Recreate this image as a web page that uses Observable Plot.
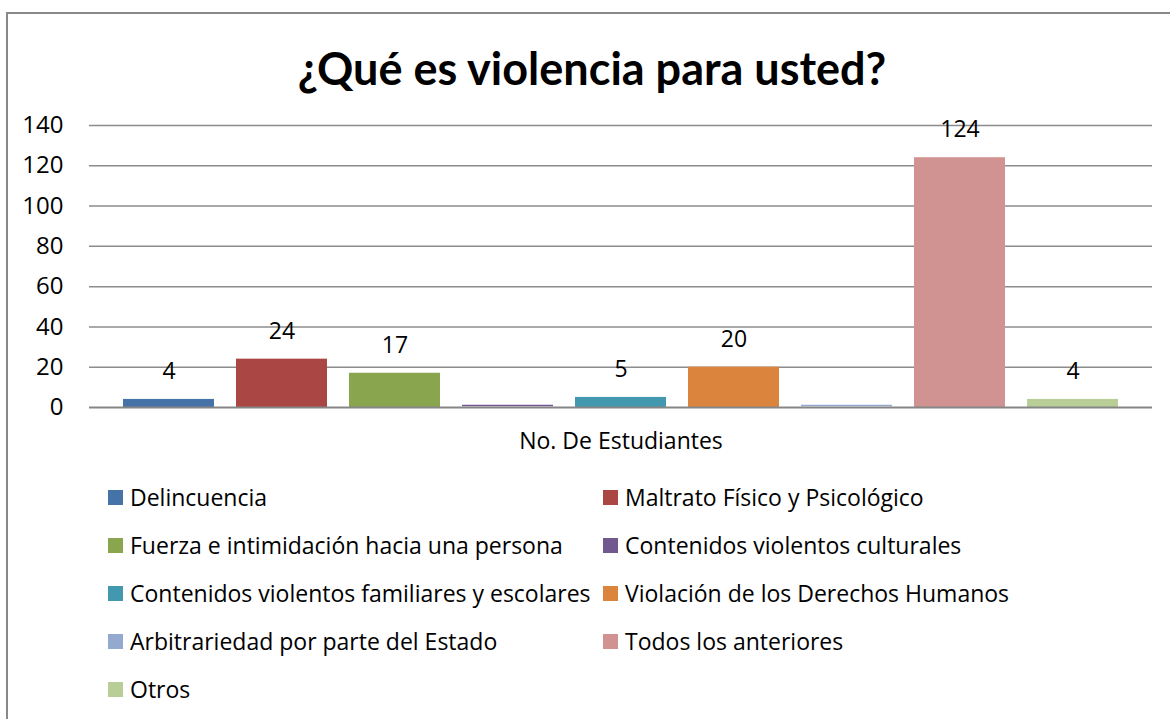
<!DOCTYPE html>
<html>
<head>
<meta charset="utf-8">
<script src="https://cdn.jsdelivr.net/npm/d3@7"></script>
<script src="https://cdn.jsdelivr.net/npm/@observablehq/plot@0.6"></script>
<style>
  html, body { margin: 0; padding: 0; background: #fff; overflow: hidden; }
  body { width: 1170px; height: 719px; position: relative; font-family: "Open Sans", sans-serif; color: #000; }
  #frame { position: absolute; left: 6px; top: 12px; width: 1300px; height: 900px;
           border-left: 2px solid #898989; border-top: 2px solid #898989; box-sizing: border-box; }
  #title { position: absolute; left: 0; top: 41px; width: 1184px; text-align: center;
           font-family: Lato, "Open Sans", sans-serif;
           font-size: 45px; font-weight: bold; line-height: 54px; }
  #chart { position: absolute; left: 0; top: 100px; }
  #legend { position: absolute; left: 108px; top: 473px; display: grid;
            grid-template-columns: 495px 495px; grid-auto-rows: 48px; }
  .item { display: flex; align-items: center; font-size: 23px; white-space: nowrap; }
  .sw { width: 15px; height: 15px; margin-right: 7px; flex: none; }
</style>
</head>
<body>
<div id="frame"></div>
<div id="title"></div>
<div id="chart"></div>
<div id="legend"></div>
<script>
const titleText = "¿Qué es violencia para usted?";
const axisLabel = "No. De Estudiantes";
const categories = [
  "Delincuencia",
  "Maltrato Físico y Psicológico",
  "Fuerza e intimidación hacia una persona",
  "Contenidos violentos culturales",
  "Contenidos violentos familiares y escolares",
  "Violación de los Derechos Humanos",
  "Arbitrariedad por parte del Estado",
  "Todos los anteriores",
  "Otros"
];
const values = [4, 24, 17, 0, 5, 20, 0, 124, 4];
const colors = ["#4572A7", "#AA4643", "#89A54E", "#71588F", "#4198AF", "#DB843D", "#93A9CF", "#D19392", "#B9CD96"];
const yTicks = [0, 20, 40, 60, 80, 100, 120, 140];

const data = categories.map((c, i) => ({category: c, value: values[i]}));

document.getElementById("title").textContent = titleText;

const chart = Plot.plot({
  width: 1170,
  height: 360,
  marginTop: 25,
  marginBottom: 53,
  marginLeft: 89,
  marginRight: 18,
  style: {fontFamily: "'Open Sans', sans-serif", fontSize: "24px", color: "#000", background: "transparent", overflow: "visible"},
  x: {domain: categories, axis: null, paddingInner: 0.195, paddingOuter: 0, insetLeft: 34, insetRight: 34},
  y: {domain: [0, 140], ticks: yTicks, tickSize: 0, tickPadding: 26, label: null},
  color: {domain: categories, range: colors},
  marks: [
    Plot.ruleY(yTicks.filter(d => d > 0), {stroke: "#8c8c8c", strokeWidth: 1.5, strokeOpacity: 1}),
    Plot.barY(data, {x: "category", y: "value", fill: "category"}),
    Plot.tickY(data.filter(d => d.value === 0), {x: "category", y: "value", stroke: "category", strokeWidth: 1.5, dy: -2}),
    Plot.ruleY([0], {stroke: "#868686", strokeWidth: 2}),
    Plot.text(data.filter(d => d.value > 0), {x: "category", y: "value", text: d => String(d.value), dy: -28, lineAnchor: "middle", fill: "#000", fontSize: 23}),
    Plot.text([axisLabel], {frameAnchor: "bottom", dy: 34, lineAnchor: "middle", fill: "#000", fontSize: 23})
  ]
});
document.getElementById("chart").appendChild(chart);

const legend = document.getElementById("legend");
categories.forEach((c, i) => {
  const item = document.createElement("div");
  item.className = "item";
  const sw = document.createElement("span");
  sw.className = "sw";
  sw.style.background = colors[i];
  const t = document.createElement("span");
  t.textContent = c;
  item.appendChild(sw);
  item.appendChild(t);
  legend.appendChild(item);
});
</script>
</body>
</html>
